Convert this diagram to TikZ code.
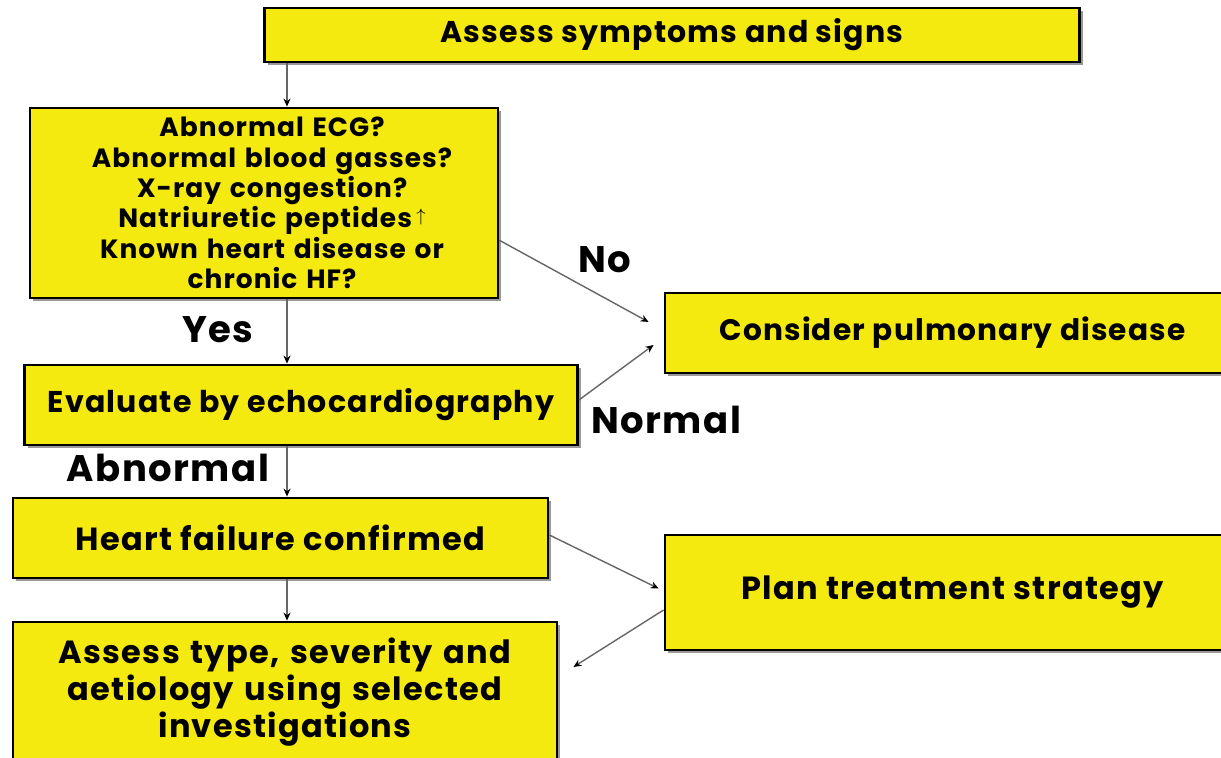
\documentclass[tikz,border=0pt]{standalone}
\usepackage{fontspec}
\setmainfont{Poppins}[LetterSpace=4]
\usetikzlibrary{arrows.meta, positioning, shadows}
\definecolor{boxyellow}{RGB}{245,234,16}
\tikzstyle{step_box} = [rectangle, draw=black, line width=1.4pt, fill=boxyellow, text centered, inner sep=0pt, font=\bfseries\fontsize{15}{18.5}\selectfont, drop shadow={shadow xshift=1.5pt, shadow yshift=-1.5pt, fill=black!40, opacity=1}]
\tikzstyle{flow_arrow} = [draw=black!60, line width=0.7pt, -{Stealth[length=4pt, width=3.5pt, black]}]
\tikzstyle{flow_label} = [font=\bfseries\fontsize{18.5}{22}\selectfont, inner sep=0pt]

\begin{document}
\begin{tikzpicture}[x=0.5pt, y=-0.5pt]
\useasboundingbox (0,0) rectangle (1221,758);
\node (symptoms) [step_box, minimum width=407.5pt, minimum height=27pt] at (672,35) {Assess symptoms and signs};
\node (tests) [step_box, minimum width=234pt, minimum height=95pt, text width=230pt, font=\bfseries\fontsize{13.2}{15.2}\selectfont] at (264,203)
  {\hspace*{8pt}Abnormal ECG?\\ \hspace*{8pt}Abnormal blood gasses?\\ \hspace*{8pt}X-ray congestion?\\ \hspace*{8pt}Natriuretic peptides\,\raisebox{0.4ex}{\normalfont\small$\uparrow$}\\ \hspace*{8pt}Known heart disease or\\ \hspace*{8pt}chronic HF?};
\node (echo) [step_box, minimum width=276.5pt, minimum height=40pt] at (301,405) {Evaluate by echocardiography};
\node (pulmonary) [step_box, minimum width=287.5pt, minimum height=40pt, font=\bfseries\fontsize{14.8}{18}\selectfont] at (952.5,333) {Consider pulmonary disease};
\node (confirmed) [step_box, minimum width=267.5pt, minimum height=40pt, font=\bfseries\fontsize{16}{19}\selectfont] at (280.5,538) {Heart failure confirmed};
\node (treatment) [step_box, minimum width=287.5pt, minimum height=57.5pt, font=\bfseries\fontsize{16}{19}\selectfont] at (952.5,592.5) {Plan treatment strategy};
\node (severity) [step_box, minimum width=272pt, minimum height=70pt, text width=268pt, font=\bfseries\fontsize{16}{18.5}\selectfont] at (285,692)
  {Assess type, severity and\\ aetiology using selected\\ investigations};

% Hauptstrang links, dann Seitenpfeile nach rechts
\coordinate (spine) at (287,0);
\draw [flow_arrow] (symptoms.south -| spine) -- (tests.north -| spine);
\draw [flow_arrow] (tests.south -| spine) -- (echo.north -| spine);
\draw [flow_arrow] (echo.south -| spine) -- (confirmed.north -| spine);
\draw [flow_arrow] (confirmed.south -| spine) -- (severity.north -| spine);

\coordinate (pulm_in_a) at ([xshift=-7.5pt, yshift=5.5pt]pulmonary.west);
\coordinate (pulm_in_b) at ([xshift=-5pt, yshift=-6pt]pulmonary.west);
\coordinate (treat_in) at ([xshift=-2.5pt, yshift=2pt]treatment.west);
\coordinate (sev_in) at ([xshift=7.5pt, yshift=12.5pt]severity.east);
\draw [flow_arrow] (tests.-9) -- (pulm_in_a);
\draw [flow_arrow] ([yshift=2.5pt]echo.east) -- (pulm_in_b);
\draw [flow_arrow] ([yshift=1.5pt]confirmed.east) -- (treat_in);
\draw [flow_arrow] ([yshift=-8.75pt]treatment.west) -- (sev_in);

\node (no_label) [flow_label] at (605,260) {No};
\node (normal_label) [flow_label] at (666,420) {Normal};
\node (yes_label) [flow_label] at (218,330) {Yes};
\node (abnormal_label) [flow_label] at (168,468) {Abnormal};
\end{tikzpicture}
\end{document}
